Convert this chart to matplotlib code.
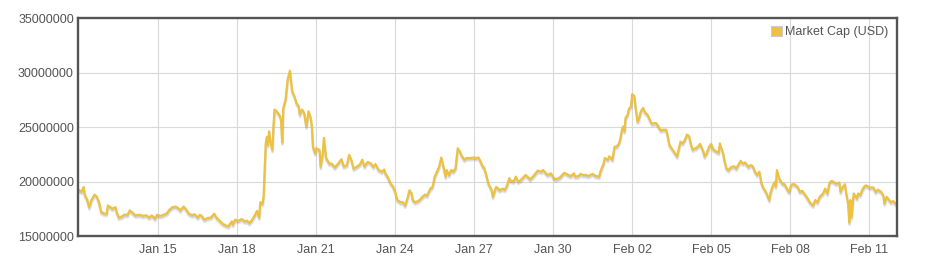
import matplotlib
matplotlib.use("Agg")
import matplotlib.pyplot as plt
import matplotlib.transforms as mtransforms
from matplotlib.patches import Patch
import pandas as pd

plt.rcParams['font.family'] = ['Liberation Sans', 'DejaVu Sans']

start = "2014-01-12 00:00"
series_label = "Market Cap (USD)"

# hours since start
hours = [
    0, 2, 4, 5, 7, 9, 11, 14, 16, 18, 20, 23, 25, 26, 29, 30, 33, 34, 36, 39,
    41, 44, 46, 49, 51, 55, 58, 61, 64, 66, 69, 71, 74, 77, 80, 82, 85, 88, 91,
    92, 95, 97, 100, 103, 105, 108, 110, 112, 114, 117, 120, 123, 125, 128, 131, 134, 136, 139, 140,
    142, 145, 148, 151, 153, 155, 157, 160, 162, 164, 165, 167, 168, 170, 171, 172, 173, 174, 176, 177,
    178, 180, 183, 184, 185, 186,
    188, 190, 192, 194, 196, 198, 200, 201, 203, 205, 207, 209, 211, 212, 213, 215, 216, 219, 220, 222,
    223, 225, 228, 230, 233, 236, 239, 241, 244, 246, 248, 250, 253, 256, 258, 260, 263, 266, 268, 270,
    273, 276, 278,
    279, 281, 284, 286, 288, 290, 293, 295, 297, 299, 301, 303, 304, 306, 309, 312, 315, 317, 320, 322,
    324, 326, 328, 330, 331, 334, 335, 337, 339, 341, 343, 345, 347, 349, 351, 353, 356, 360, 362, 364,
    366, 368, 369,
    371, 373, 376, 377, 380, 382, 383, 386, 388, 390, 392, 393, 396, 398, 400, 402, 405, 407, 409, 411,
    414, 416, 418, 421, 423, 425, 427, 430, 432, 434, 437, 439, 442, 444, 446, 448, 451, 452, 455, 457,
    459, 462,
    464, 466, 468, 471, 474, 475, 478, 479, 482, 483, 485, 486, 488, 490, 492, 493, 495, 496, 497, 498,
    500, 501, 503, 504, 506, 507, 509, 510, 512, 514, 516, 518, 520, 522, 524, 526, 528, 530, 532, 535,
    536, 538, 540, 542, 545, 546, 548, 550, 552, 554, 556,
    557, 559, 562, 564, 566, 569, 570, 572, 574, 576, 578, 581, 583, 584, 585, 587, 588, 590, 592, 594,
    597, 599, 600, 603, 605, 607, 610, 612, 614, 616, 618, 620, 622, 624, 626, 629, 630, 632, 634, 635,
    636, 638, 641, 643, 645, 647, 649,
    650, 652, 655, 657, 659, 662, 664, 666, 669, 671, 673, 675, 678, 680, 682, 684, 686, 688, 690, 693,
    694, 696, 698, 699, 701, 702, 703, 704, 706, 707, 709, 710, 712, 713, 715, 717, 719, 721, 724, 726,
    728, 731, 733, 734, 736, 738, 740, 742, 744,
]

# market cap, millions of USD
cap_millions = [
    19.2, 19.05, 19.5, 18.75, 18.4, 17.65, 18.3, 18.8, 18.6, 18.1, 17.2, 17.05, 17.05, 17.8, 17.6, 17.5, 17.65, 17.2, 16.7, 16.8,
    16.95, 16.95, 17.35, 17.1, 16.9, 16.95, 16.85, 16.9, 16.7, 16.9, 16.6, 16.95, 16.85, 16.95, 17.1, 17.4, 17.65, 17.7, 17.5,
    17.35, 17.7, 17.5, 17.05, 16.9, 17.0, 16.7, 16.95, 16.8, 16.5, 16.65, 16.7, 17.05, 16.7, 16.4, 16.1, 15.95, 15.9, 16.35, 16.05,
    16.5, 16.4, 16.55, 16.35, 16.4, 16.2, 16.4, 16.9, 17.3, 16.7, 18.1, 17.95, 18.6, 23.5, 24.1, 23.35, 24.6, 23.8, 22.9, 25.05,
    26.6, 26.45, 26.0, 25.6, 23.6, 26.75,
    27.5, 29.4, 30.15, 28.3, 27.85, 27.2, 26.9, 26.15, 26.6, 26.3, 25.05, 26.45, 25.85, 25.05, 23.2, 22.6, 23.05, 22.9, 21.35, 22.6,
    24.0, 22.15, 21.65, 21.65, 21.3, 21.65, 22.05, 21.4, 21.5, 22.45, 22.0, 21.2, 21.35, 21.6, 22.0, 21.4, 21.8, 21.65, 21.35, 21.6,
    21.05, 20.9, 21.1,
    20.75, 20.45, 19.8, 19.55, 19.05, 18.3, 18.1, 18.1, 17.8, 18.4, 19.2, 18.9, 18.3, 18.1, 18.2, 18.5, 18.8, 18.7, 19.35, 19.5,
    20.45, 20.9, 21.35, 22.2, 21.8, 20.45, 21.05, 20.6, 21.05, 20.9, 21.2, 23.05, 22.75, 22.3, 22.0, 22.15, 22.15, 22.2, 22.15, 22.2,
    21.8, 21.35, 21.3,
    20.6, 19.8, 19.2, 18.6, 19.5, 19.35, 19.2, 19.35, 19.25, 19.65, 20.3, 20.1, 20.0, 20.45, 20.0, 20.1, 20.4, 20.6, 20.4, 20.2,
    20.5, 20.75, 21.0, 20.9, 21.05, 20.8, 20.6, 20.75, 20.4, 20.2, 20.3, 20.45, 20.8, 20.7, 20.6, 20.5, 20.75, 20.45, 20.5, 20.7,
    20.6, 20.6,
    20.5, 20.6, 20.7, 20.5, 20.45, 20.9, 21.65, 22.15, 22.0, 22.3, 22.15, 22.0, 23.2, 23.2, 23.5, 23.8, 24.9, 25.05, 24.6, 25.85,
    26.15, 26.65, 26.9, 28.0, 27.85, 26.9, 25.5, 25.7, 26.45, 26.75, 26.3, 26.15, 25.7, 25.3, 25.35, 25.35, 25.05, 24.7, 24.75, 24.75,
    24.4, 23.35, 23.05, 22.75, 22.3, 22.75, 23.65, 23.5, 23.8, 24.3, 24.15,
    23.65, 22.95, 23.05, 23.2, 23.45, 22.75, 22.3, 22.6, 23.15, 23.45, 22.95, 22.75, 22.65, 23.5, 23.15, 22.6, 22.0, 21.2, 21.05, 21.3,
    21.4, 21.2, 21.4, 21.9, 21.65, 21.75, 21.35, 21.5, 21.4, 20.9, 20.6, 20.9, 19.8, 19.35, 19.05, 18.3, 18.9, 19.55, 19.95, 19.55,
    21.05, 20.3, 19.8, 19.75, 19.35, 19.05, 19.65,
    19.75, 19.75, 19.5, 19.05, 19.15, 18.75, 18.45, 18.1, 17.8, 18.3, 18.1, 18.6, 18.9, 19.35, 18.9, 19.9, 20.05, 19.95, 19.8, 19.9,
    19.05, 19.5, 19.75, 19.05, 17.95, 16.25, 18.3, 16.75, 18.9, 18.75, 18.45, 18.9, 18.75, 19.05, 19.45, 19.65, 19.55, 19.45, 19.45, 19.05,
    19.25, 19.05, 18.75, 18.0, 18.6, 18.35, 18.1, 18.2, 18.0,
]

x_tick_dates = ["2014-01-15", "2014-01-18", "2014-01-21", "2014-01-24", "2014-01-27",
                "2014-01-30", "2014-02-02", "2014-02-05", "2014-02-08", "2014-02-11"]
x_tick_labels = ["Jan 15", "Jan 18", "Jan 21", "Jan 24", "Jan 27",
                 "Jan 30", "Feb 02", "Feb 05", "Feb 08", "Feb 11"]
y_ticks = [15000000, 20000000, 25000000, 30000000, 35000000]
y_tick_labels = ["15000000", "20000000", "25000000", "30000000", "35000000"]

assert len(hours) == len(cap_millions)

t0 = pd.Timestamp(start)
times = t0 + pd.to_timedelta(hours, unit="h")
values = [v * 1e6 for v in cap_millions]

line_color = "#edc240"
frame_color = "#545454"
grid_color = "#d9d9d9"
text_color = "#545454"

fig = plt.figure(figsize=(9.35, 2.66), dpi=100)
ax = fig.add_axes([78 / 935, 1 - 236 / 266, (896.7 - 78) / 935, (236 - 18) / 266])

# flot-like shadow
for dx, dy, lw in [(0.19, -1.7, 2.0), (0.12, -1.2, 1.0)]:
    tr = mtransforms.offset_copy(ax.transData, fig=fig, x=dx, y=dy, units="points")
    ax.plot(times, values, color="black", alpha=0.1, lw=lw, transform=tr,
            solid_joinstyle="round", zorder=2)
ax.plot(times, values, color=line_color, lw=1.6, solid_joinstyle="round", zorder=3)

ax.set_xlim(t0 - pd.Timedelta(hours=1.2), t0 + pd.Timedelta(hours=745.2))
ax.set_ylim(y_ticks[0], y_ticks[-1])

ax.set_xticks(pd.to_datetime(x_tick_dates))
ax.set_xticklabels(x_tick_labels)
ax.set_yticks(y_ticks)
ax.set_yticklabels(y_tick_labels)

ax.tick_params(axis="both", length=0, labelsize=9, labelcolor=text_color)
ax.tick_params(axis="x", pad=6)
ax.tick_params(axis="y", pad=3)

ax.grid(True, color=grid_color, lw=0.8, zorder=0)
ax.set_axisbelow(True)
for s in ax.spines.values():
    s.set_color(frame_color)
    s.set_linewidth(1.7)
    s.set_zorder(5)

handle = Patch(facecolor=line_color, edgecolor="#cccccc", linewidth=0.8)
leg = ax.legend([handle], [series_label], loc="upper right", frameon=False,
                fontsize=9, handlelength=0.85, handleheight=0.85, handletextpad=0.3,
                borderaxespad=0.35, borderpad=0.3, labelcolor=text_color)

fig.savefig("out.png", dpi=100, facecolor="white")
